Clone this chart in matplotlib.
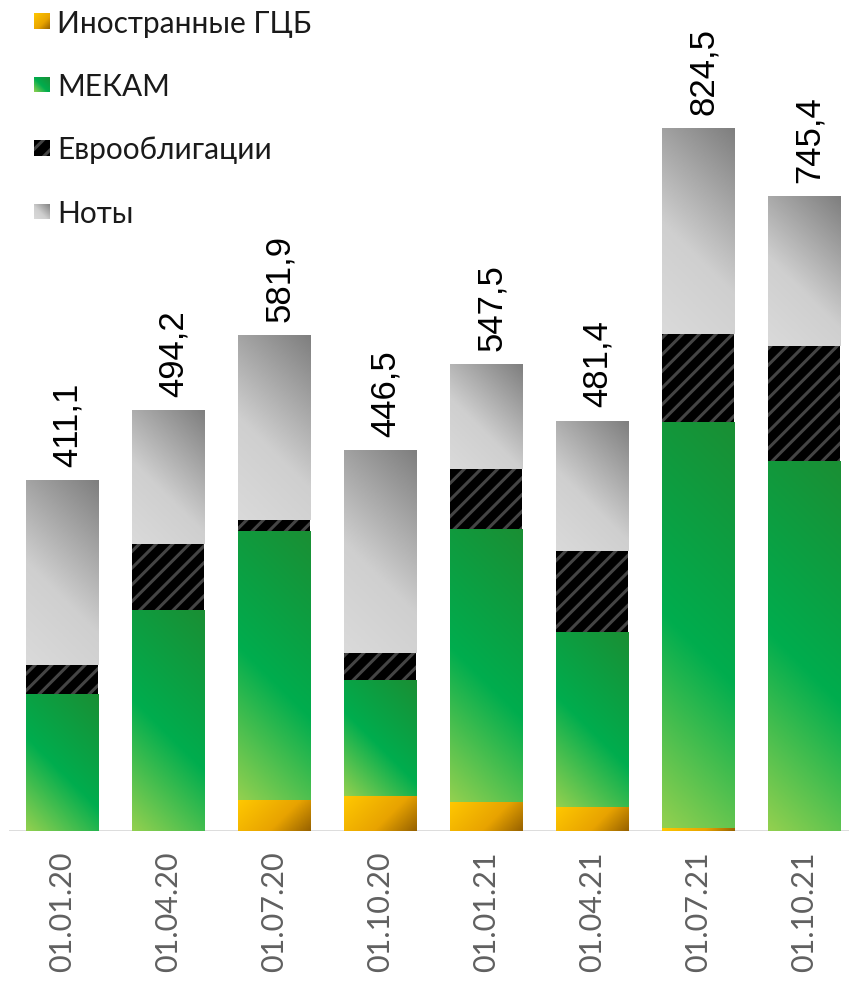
import numpy as np
import matplotlib
matplotlib.use("Agg")
import matplotlib.pyplot as plt
from matplotlib.colors import LinearSegmentedColormap
from matplotlib.patches import Rectangle

# данные (млрд руб.)
dates = ['01.01.20', '01.04.20', '01.07.20', '01.10.20',
         '01.01.21', '01.04.21', '01.07.21', '01.10.21']
totals = [411.1, 494.2, 581.9, 446.5, 547.5, 481.4, 824.5, 745.4]
inostr = [0.0, 0.0, 36.4, 41.1, 34.1, 28.2, 3.5, 0.0]
mekam = [160.9, 258.4, 314.8, 135.1, 320.6, 204.4, 475.7, 433.4]
evro = [34.0, 78.7, 14.1, 32.9, 70.5, 96.3, 104.5, 136.2]
noty = [t - a - b - c for t, a, b, c in zip(totals, inostr, mekam, evro)]

legend_labels = ['Иностранные ГЦБ', 'МЕКАМ', 'Еврооблигации', 'Ноты']

# градиенты
cm_gold = LinearSegmentedColormap.from_list('gold', [(0, '#FFC800'), (0.6, '#E8A300'), (1, '#976200')])
cm_green = LinearSegmentedColormap.from_list('green', [(0, '#92D050'), (0.45, '#00AD4E'), (1, '#1A8F34')])
cm_gray = LinearSegmentedColormap.from_list('gray', [(0, '#DADADA'), (0.4, '#CFCFCF'), (1, '#7F7F7F')])

plt.rcParams['hatch.linewidth'] = 2.2

W, H = 849, 981
fig = plt.figure(figsize=(W / 100, H / 100), dpi=100)
ax = fig.add_axes([9 / W, 150 / H, 848 / W, 831 / H])
ax.set_xlim(-0.5, 7.5)
ax.set_ylim(0, 976)
for s in ax.spines.values():
    s.set_visible(False)
ax.set_yticks([])

x = np.arange(len(dates))
bw = 0.68


def grad(w, h, cmap, flip=False, n=80):
    # диагональный градиент в пикселях (снизу-слева вверх-вправо)
    u = np.linspace(0, 1, n)[None, :]
    v = np.linspace(1, 0, n)[:, None]  # строка 0 = верх
    if flip:
        v = 1 - v
    t = (u * w + v * h) / (w + h)
    return cmap(t)


def fill_grad(bars, cmap, flip=False):
    for r in bars:
        if r.get_height() <= 0:
            continue
        x0, y0 = r.get_x(), r.get_y()
        x1, y1 = x0 + r.get_width(), y0 + r.get_height()
        (px0, py0), (px1, py1) = ax.transData.transform([(x0, y0), (x1, y1)])
        img = grad(px1 - px0, py1 - py0, cmap, flip)
        ax.imshow(img, extent=(x0, x1, y0, y1), aspect='auto',
                  interpolation='bilinear', zorder=2)


b1 = ax.bar(x, inostr, bw, color='none', linewidth=0)
b2 = ax.bar(x, mekam, bw, bottom=inostr, color='none', linewidth=0)
bot3 = [a + b for a, b in zip(inostr, mekam)]
b3 = ax.bar(x, evro, bw, bottom=bot3, color='black', edgecolor='#444444',
            hatch='//', linewidth=0, zorder=2)
bot4 = [a + b for a, b in zip(bot3, evro)]
b4 = ax.bar(x, noty, bw, bottom=bot4, color='none', linewidth=0)

fill_grad(b1, cm_gold, flip=True)
fill_grad(b2, cm_green)
fill_grad(b4, cm_gray)

ax.set_xlim(-0.5, 7.5)
ax.set_ylim(0, 976)
ax.axhline(0, color='#D9D9D9', lw=2, zorder=1)

# подписи значений
for i, t in enumerate(totals):
    ax.text(i + 0.02, t + 16, f"{t:.1f}".replace('.', ','), rotation=90,
            rotation_mode='anchor', ha='left', va='center_baseline',
            fontsize=25, family=['Liberation Sans', 'DejaVu Sans'], color='black')

ax.set_xticks(x)
ax.set_xticklabels(dates, rotation=90, fontsize=22, color='#606060',
                   family=['Lato', 'DejaVu Sans'])
ax.tick_params(axis='x', length=0, pad=15)

# легенда
cmaps = [cm_gold, cm_green, None, cm_gray]
flips = [True, False, False, False]
for k, lab in enumerate(legend_labels):
    yc = 21 + 63.5 * k
    lax = fig.add_axes([34 / W, 1 - (yc + 8) / H, 16 / W, 16 / H])
    lax.set_axis_off()
    lax.set_xlim(0, 1)
    lax.set_ylim(0, 1)
    if cmaps[k] is None:
        lax.add_patch(Rectangle((0, 0), 1, 1, facecolor='black', edgecolor='#444444',
                                hatch='//', linewidth=0))
    else:
        lax.imshow(grad(16, 16, cmaps[k], flips[k]), extent=(0, 1, 0, 1),
                   aspect='auto', interpolation='bilinear')
    fig.text(57 / W, 1 - yc / H, lab, ha='left', va='center_baseline',
             fontsize=21.5, color='#1A1A1A', family=['Lato', 'DejaVu Sans'])

fig.savefig('out.png', dpi=100)
